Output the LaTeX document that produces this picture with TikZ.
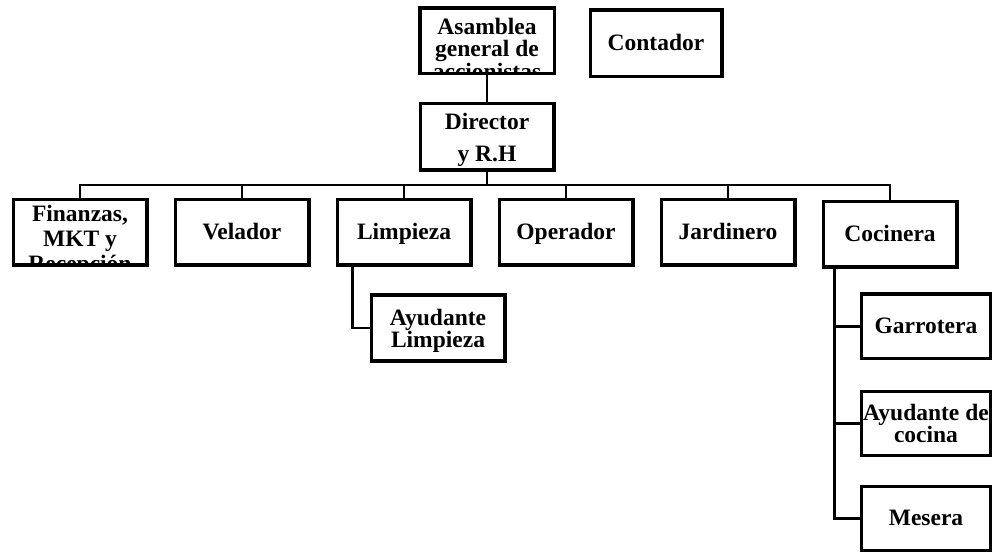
\documentclass[tikz,border=0pt]{standalone}
\usepackage{fontspec}
\setmainfont{Liberation Serif}
\usetikzlibrary{positioning}

\newcommand{\bajar}{\rule{0pt}{22pt}}

\begin{document}
\begin{tikzpicture}[x=1pt, y=-1pt, node distance=26.5pt and 25pt,
puesto/.style={rectangle, draw=black, line width=3.5pt, minimum width=133.5pt, minimum height=65.5pt, align=center, inner sep=2pt, font=\fontsize{23.5pt}{22.5pt}\selectfont\bfseries},
uno/.style={text height=18pt, text depth=3pt},
rotulo/.style={draw=none, anchor=north, align=center, inner sep=0pt, font=\fontsize{23.5pt}{22.5pt}\selectfont\bfseries},
linea/.style={draw=black, line width=2.5pt}]
\useasboundingbox (0,0) rectangle (993,553);

% direccion
\node[puesto, minimum width=134.5pt, path picture={\node[rotulo] at ([yshift=-6pt]path picture bounding box.north) {Asamblea\\general de\\accionistas};}] (asamblea) at (487,41) {};
\node[puesto, uno, minimum width=131.5pt, minimum height=66.5pt] (contador) [right=32.5pt of asamblea, yshift=-2.5pt] {Contador};
\node[puesto, minimum height=66.5pt] (director) [below=of asamblea] {\bajar Director\\[10pt]y R.H};

% areas
\node[puesto, path picture={\node[rotulo, font=\fontsize{23.5pt}{25pt}\selectfont\bfseries] at ([yshift=-4pt]path picture bounding box.north) {Finanzas,\\MKT y\\Recepción};}] (finanzas) at (80,232.5) {};
\node[puesto, uno] (velador) [right=of finanzas] {Velador};
\node[puesto, uno] (limpieza) [right=of velador] {Limpieza};
\node[puesto, uno] (operador) [right=of limpieza] {Operador};
\node[puesto, uno] (jardinero) [right=of operador] {Jardinero};
\node[puesto, uno] (cocinera) [right=of jardinero, yshift=-2pt] {Cocinera};

% ayudantes
\node[puesto, font=\fontsize{23.5pt}{22pt}\selectfont\bfseries] (ayulimpieza) [below=of limpieza, xshift=34pt] {\bajar Ayudante\\Limpieza};
\node[puesto, uno, minimum width=129pt, minimum height=64pt] (garrotera) [below=23.5pt of cocinera, xshift=36pt] {Garrotera};
\node[puesto, minimum width=129pt, minimum height=64pt, inner sep=0pt, font=\fontsize{23.5pt}{22pt}\selectfont\bfseries] (ayucocina) [below=29.5pt of garrotera] {Ayudante de\\cocina};
\node[puesto, uno, minimum width=129pt, minimum height=64pt] (mesera) [below=27.5pt of ayucocina] {Mesera};

\draw[linea] (asamblea) -- (director);
\foreach \n in {finanzas,velador,limpieza,operador,jardinero,cocinera}
  \draw[linea] (director.south) -- ++(0,13) -| (\n.north);
\draw[linea] ([xshift=17pt]limpieza.south west) |- (ayulimpieza.west);
\foreach \n in {garrotera,ayucocina,mesera}
  \draw[linea] ([xshift=13pt]cocinera.south west) |- (\n.west);
\end{tikzpicture}
\end{document}
